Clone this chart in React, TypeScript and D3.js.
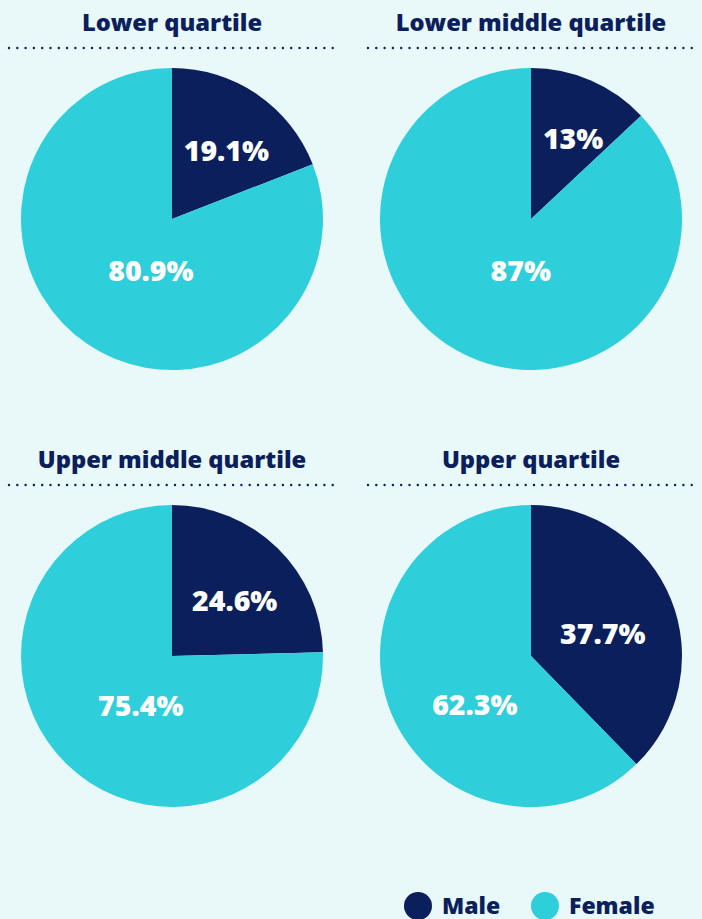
import React from "react";
import * as d3 from "d3";

const quartiles = ["Lower quartile", "Lower middle quartile", "Upper middle quartile", "Upper quartile"];
const maleValues = [19.1, 13, 24.6, 37.7];
const femaleValues = [80.9, 87, 75.4, 62.3];
const seriesNames = ["Male", "Female"];
const labelTexts = [["19.1%", "80.9%"], ["13%", "87%"], ["24.6%", "75.4%"], ["37.7%", "62.3%"]];

const W = 702;
const H = 919;
const NAVY = "#0a1f5c";
const CYAN = "#2ecedb";
const BG = "#e9f8f9";
const FONT = "'Open Sans', Lato, sans-serif";

export default function App() {
  const colors = d3.scaleOrdinal<string, string>().domain(seriesNames).range([NAVY, CYAN]);
  const colX = d3.scalePoint<number>().domain([0, 1]).range([172, 531]);
  const rowY = d3.scalePoint<number>().domain([0, 1]).range([219, 656]);
  const R = 151;
  const pie = d3.pie<{ name: string; value: number }>().sort(null).value((d) => d.value);
  const arc = d3.arc<d3.PieArcDatum<{ name: string; value: number }>>().innerRadius(0).outerRadius(R);

  return (
    <svg width={W} height={H} style={{ position: "absolute", left: 0, top: 0, display: "block" }}>
      <rect width={W} height={H} fill={BG} />
      {quartiles.map((q, i) => {
        const cx = colX(i % 2)!;
        const cy = rowY(Math.floor(i / 2))!;
        const data = [
          { name: seriesNames[0], value: maleValues[i] },
          { name: seriesNames[1], value: femaleValues[i] },
        ];
        const arcs = pie(data);
        const titleY = cy - 188.5;
        const lineY = cy - 171;
        return (
          <g key={q}>
            <text x={cx} y={titleY} textAnchor="middle" fontFamily={FONT} fontWeight={800} fontSize={23.7} fill={NAVY}>
              {q}
            </text>
            <line
              x1={cx - 163}
              x2={cx + 165}
              y1={lineY}
              y2={lineY}
              stroke={NAVY}
              strokeWidth={2.4}
              strokeLinecap="round"
              strokeDasharray="0 8.3"
            />
            <g transform={`translate(${cx},${cy})`}>
              {arcs.map((a) => (
                <path key={a.data.name} d={arc(a)!} fill={colors(a.data.name)} />
              ))}
              {arcs.map((a, j) => {
                const p = a.value / 100;
                let off: number;
                let r: number;
                if (j === 0) {
                  off = 4;
                  r = 100 - 65 * p;
                } else if (p < 0.7) {
                  off = -18.5;
                  r = 74;
                } else {
                  off = -12;
                  r = 100 - 55 * p;
                }
                const mid = (a.startAngle + a.endAngle) / 2 + (off * Math.PI) / 180;
                const x = r * Math.sin(mid);
                const y = -r * Math.cos(mid);
                return (
                  <text
                    key={"l" + j}
                    x={x}
                    y={y}
                    textAnchor="middle"
                    dominantBaseline="central"
                    fontFamily={FONT}
                    fontWeight={800}
                    fontSize={28.5}
                    fill="#ffffff"
                  >
                    {labelTexts[i][j]}
                  </text>
                );
              })}
            </g>
          </g>
        );
      })}
      {seriesNames.map((s, k) => {
        const lx = k === 0 ? 418 : 545;
        return (
          <g key={s}>
            <circle cx={lx} cy={906} r={14} fill={colors(s)} />
            <text x={lx + 24} y={914} fontFamily={FONT} fontWeight={800} fontSize={23} fill={NAVY}>
              {s}
            </text>
          </g>
        );
      })}
    </svg>
  );
}
